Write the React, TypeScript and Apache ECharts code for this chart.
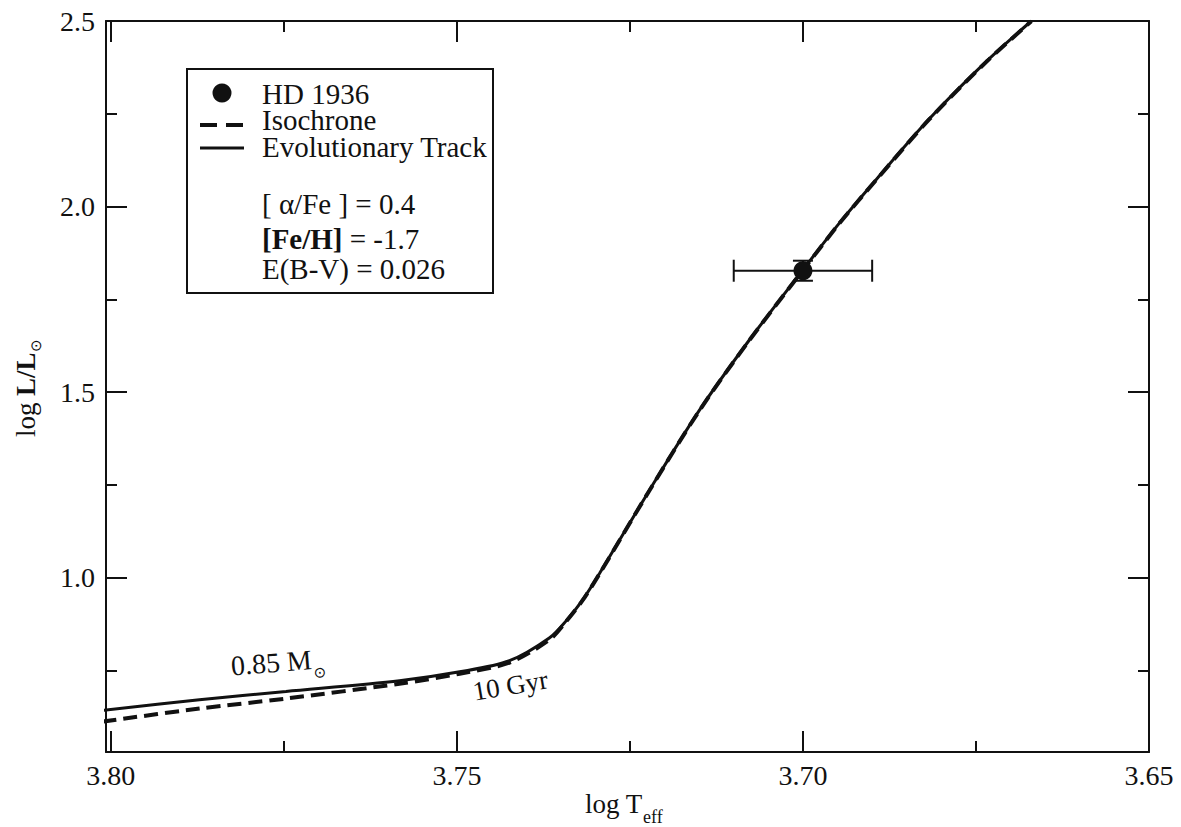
import React, { useEffect, useRef } from "react";
import * as echarts from "echarts";

// Evolutionary track (0.85 Msun), log Teff vs log L/Lsun
const trackX = [3.8012, 3.7872, 3.7747, 3.7583, 3.7496, 3.7424, 3.7366, 3.7342, 3.7319, 3.7294, 3.7222, 3.715, 3.7078, 3.7001, 3.6948, 3.6894, 3.6818, 3.6735, 3.667];
const trackY = [0.642, 0.671, 0.693, 0.722, 0.746, 0.776, 0.838, 0.884, 0.938, 1.011, 1.235, 1.45, 1.639, 1.827, 1.954, 2.073, 2.235, 2.391, 2.5];
// Isochrone (10 Gyr)
const isoX = [3.8012, 3.7872, 3.7747, 3.7583, 3.7496, 3.7424, 3.7366, 3.7342, 3.7319, 3.7294, 3.7222, 3.715, 3.7078, 3.7001, 3.6948, 3.6894, 3.6818, 3.6735, 3.667];
const isoY = [0.612, 0.647, 0.674, 0.714, 0.741, 0.771, 0.833, 0.882, 0.937, 1.01, 1.234, 1.449, 1.638, 1.826, 1.953, 2.072, 2.234, 2.39, 2.499];
// HD 1936 observed point with errors
const starX = [3.7];
const starY = [1.827];
const starErrX = [0.01];
const starErrY = [0.027];

const xMajor = [3.8, 3.75, 3.7, 3.65];
const xMinor = [3.775, 3.725, 3.675];
const yMajor = [1.0, 1.5, 2.0, 2.5];
const yMinor = [0.75, 1.25, 1.75, 2.25];

const FONT = "Liberation Serif";
const INK = "#111";

function txt(text: string, x: number, y: number, size: number, extra: any = {}) {
  return {
    type: "text",
    x,
    y,
    rotation: extra.rotation || 0,
    z: extra.z || 11,
    style: {
      text,
      fill: INK,
      fontSize: size,
      fontFamily: FONT,
      fontWeight: extra.bold ? "bold" : "normal",
      lineHeight: extra.lh || size,
      align: extra.align || "left",
      verticalAlign: "middle",
    },
  };
}

export default function App() {
  const ref = useRef<HTMLDivElement>(null);
  useEffect(() => {
    if (!ref.current) return;
    const chart = echarts.init(ref.current, null, { renderer: "svg" });
    const xMin = 3.65;
    const xMax = 3.8007;
    const yMin = 0.53;
    const yMax = 2.5;
    const baseX = (pos: string, ticks: number[], len: number, labels: boolean, line: boolean) => ({
      type: "value",
      position: pos,
      min: xMin,
      max: xMax,
      inverse: true,
      axisLine: { show: line, onZero: false, lineStyle: { color: INK, width: 2 } },
      axisTick: { show: true, inside: true, length: len, customValues: ticks, lineStyle: { color: INK, width: 2 } },
      axisLabel: labels
        ? { show: true, customValues: ticks, formatter: (v: number) => v.toFixed(2), color: INK, fontSize: 28, fontFamily: FONT, margin: 9 }
        : { show: false },
      splitLine: { show: false },
    });
    const baseY = (pos: string, ticks: number[], len: number, labels: boolean, line: boolean) => ({
      type: "value",
      position: pos,
      min: yMin,
      max: yMax,
      axisLine: { show: line, onZero: false, lineStyle: { color: INK, width: 2 } },
      axisTick: { show: true, inside: true, length: len, customValues: ticks, lineStyle: { color: INK, width: 2 } },
      axisLabel: labels
        ? { show: true, customValues: ticks, formatter: (v: number) => v.toFixed(1), color: INK, fontSize: 28, fontFamily: FONT, margin: 11 }
        : { show: false },
      splitLine: { show: false },
    });

    const errData = starX.map((x, i) => [x, starY[i], starErrX[i], starErrY[i]]);

    chart.setOption({
      animation: false,
      backgroundColor: "#fff",
      grid: { left: 106, top: 21, right: 32, bottom: 75, containLabel: false },
      xAxis: [
        baseX("bottom", xMajor, 21, true, true),
        baseX("bottom", xMinor, 11, false, false),
        baseX("top", xMajor, 21, false, true),
        baseX("top", xMinor, 11, false, false),
      ],
      yAxis: [
        baseY("left", yMajor, 21, true, true),
        baseY("left", yMinor, 11, false, false),
        baseY("right", yMajor, 21, false, true),
        baseY("right", yMinor, 11, false, false),
      ],
      series: [
        {
          name: "Isochrone",
          type: "line",
          data: isoX.map((x, i) => [x, isoY[i]]),
          showSymbol: false,
          smooth: 0.3,
          clip: true,
          lineStyle: { color: INK, width: 4, type: [14, 7] },
        },
        {
          name: "Evolutionary Track",
          type: "line",
          data: trackX.map((x, i) => [x, trackY[i]]),
          showSymbol: false,
          smooth: 0.3,
          clip: true,
          lineStyle: { color: INK, width: 3 },
        },
        {
          name: "errors",
          type: "custom",
          data: errData,
          z: 4,
          renderItem: (params: any, api: any) => {
            const x = api.value(0);
            const y = api.value(1);
            const ex = api.value(2);
            const ey = api.value(3);
            const l = api.coord([x + ex, y]);
            const r = api.coord([x - ex, y]);
            const t = api.coord([x, y + ey]);
            const b = api.coord([x, y - ey]);
            const st = { stroke: INK, lineWidth: 2 };
            const cap = 11;
            const vcap = 10;
            return {
              type: "group",
              children: [
                { type: "line", shape: { x1: l[0], y1: l[1], x2: r[0], y2: r[1] }, style: st },
                { type: "line", shape: { x1: l[0], y1: l[1] - cap, x2: l[0], y2: l[1] + cap }, style: st },
                { type: "line", shape: { x1: r[0], y1: r[1] - cap, x2: r[0], y2: r[1] + cap }, style: st },
                { type: "line", shape: { x1: t[0], y1: t[1], x2: b[0], y2: b[1] }, style: st },
                { type: "line", shape: { x1: t[0] - vcap, y1: t[1], x2: t[0] + vcap, y2: t[1] }, style: st },
                { type: "line", shape: { x1: b[0] - vcap, y1: b[1], x2: b[0] + vcap, y2: b[1] }, style: st },
              ],
            };
          },
        },
        {
          name: "HD 1936",
          type: "scatter",
          z: 5,
          data: starX.map((x, i) => [x, starY[i]]),
          symbol: "circle",
          symbolSize: 19,
          itemStyle: { color: INK, opacity: 1 },
        },
      ],
      graphic: [
        {
          type: "rect",
          shape: { x: 187, y: 69, width: 306, height: 224 },
          style: { fill: "#fff", stroke: INK, lineWidth: 2 },
          z: 10,
        },
        { type: "circle", shape: { cx: 222, cy: 93, r: 9.5 }, style: { fill: INK }, z: 11 },
        { type: "line", shape: { x1: 200, y1: 125, x2: 244, y2: 125 }, style: { stroke: INK, lineWidth: 4, lineDash: [17, 9] }, z: 11 },
        { type: "line", shape: { x1: 200, y1: 148, x2: 244, y2: 148 }, style: { stroke: INK, lineWidth: 3 }, z: 11 },
        txt("HD 1936", 262, 94, 29, { lh: 24 }),
        txt("Isochrone", 262, 120, 29, { lh: 24 }),
        txt("Evolutionary Track", 262, 147, 29, { lh: 24 }),
        txt("[ α/Fe ] = 0.4", 262, 204, 29, { lh: 28 }),
        {
          type: "text",
          x: 262,
          y: 239,
          z: 11,
          style: {
            text: "{b|[Fe/H]}{n| = -1.7}",
            verticalAlign: "middle",
            rich: {
              b: { fontSize: 29, fontFamily: FONT, fontWeight: "bold", fill: INK, color: INK, lineHeight: 28 },
              n: { fontSize: 29, fontFamily: FONT, fill: INK, color: INK, lineHeight: 28 },
            },
          },
        },
        txt("E(B-V) = 0.026", 262, 269, 29, { lh: 28 }),
        // curve annotations
        txt("0.85 M", 231, 666, 28, { rotation: 0.08 }),
        txt("⊙", 314, 673, 15, { rotation: 0.08 }),
        txt("10 Gyr", 473, 692, 27, { rotation: 0.17 }),
        // axis titles
        txt("log T", 585, 804, 27),
        txt("eff", 643, 817, 18),
        {
          type: "group",
          x: 26,
          y: 437,
          rotation: Math.PI / 2,
          children: [
            txt("log ", 0, 0, 27),
            txt("L/L", 41, 0, 27, { bold: true }),
            txt("⊙", 85, 10, 15),
          ],
        },
      ],
    });
    return () => chart.dispose();
  }, []);
  return (
    <div
      ref={ref}
      style={{ position: "fixed", left: 0, top: 0, width: 1181, height: 827, background: "#fff" }}
    />
  );
}
